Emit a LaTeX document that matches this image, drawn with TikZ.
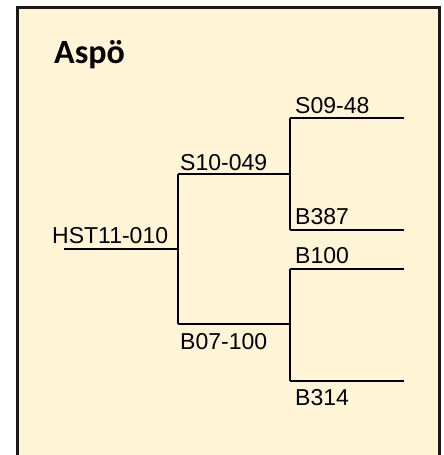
\documentclass[tikz,border=0pt]{standalone}
\usepackage{fontspec}
\setmainfont{Liberation Sans}
\newfontfamily\titlefont{Carlito}
\definecolor{panelfill}{RGB}{255,244,214}
\definecolor{panelline}{RGB}{25,25,25}
\begin{document}
\begin{tikzpicture}[x=1pt,y=-1pt,
  lbl/.style={inner sep=0pt,anchor=base west,font=\fontsize{23}{25}\selectfont},
  branch/.style={line width=1.6pt,black},
  panel/.style={fill=panelfill,draw=panelline,line width=3pt}]
\useasboundingbox (0,0) rectangle (444,455);
\fill[white] (0,0) rectangle (444,455);
\draw[panel] (17.5,7.5) rectangle (439.5,470);
\node[inner sep=0pt,anchor=base west,font=\titlefont\bfseries\fontsize{34}{36}\selectfont] (title) at (54,63) {Aspö};
% labels
\node[lbl] (hst) at (52,243) {HST11-010};
\node[lbl] (s10) at (180,170) {S10-049};
\node[lbl] (b07) at (180,349) {B07-100};
\node[lbl] (s09) at (295,113) {S09-48};
\node[lbl] (b387) at (295,224) {B387};
\node[lbl] (b100) at (295,263) {B100};
\node[lbl] (b314) at (295,405) {B314};
% junctions
\coordinate (r0) at (64,249);
\coordinate (r1) at (178,249);
\coordinate (a0) at (178,174);
\coordinate (a1) at (290,174);
\coordinate (b0) at (178,324);
\coordinate (b1) at (290,324);
\coordinate (t1) at (290,118);
\coordinate (t2) at (404,118);
\coordinate (u1) at (290,230);
\coordinate (u2) at (404,230);
\coordinate (v1) at (290,269);
\coordinate (v2) at (404,269);
\coordinate (w1) at (290,381);
\coordinate (w2) at (404,381);
\draw[branch] (r0) -- (r1);
\draw[branch] (a0) -- (b0);
\draw[branch] (a0) -- (a1);
\draw[branch] (b0) -- (b1);
\draw[branch] (t1) -- (u1);
\draw[branch] (t1) -- (t2);
\draw[branch] (u1) -- (u2);
\draw[branch] (v1) -- (w1);
\draw[branch] (v1) -- (v2);
\draw[branch] (w1) -- (w2);
\end{tikzpicture}
\end{document}
